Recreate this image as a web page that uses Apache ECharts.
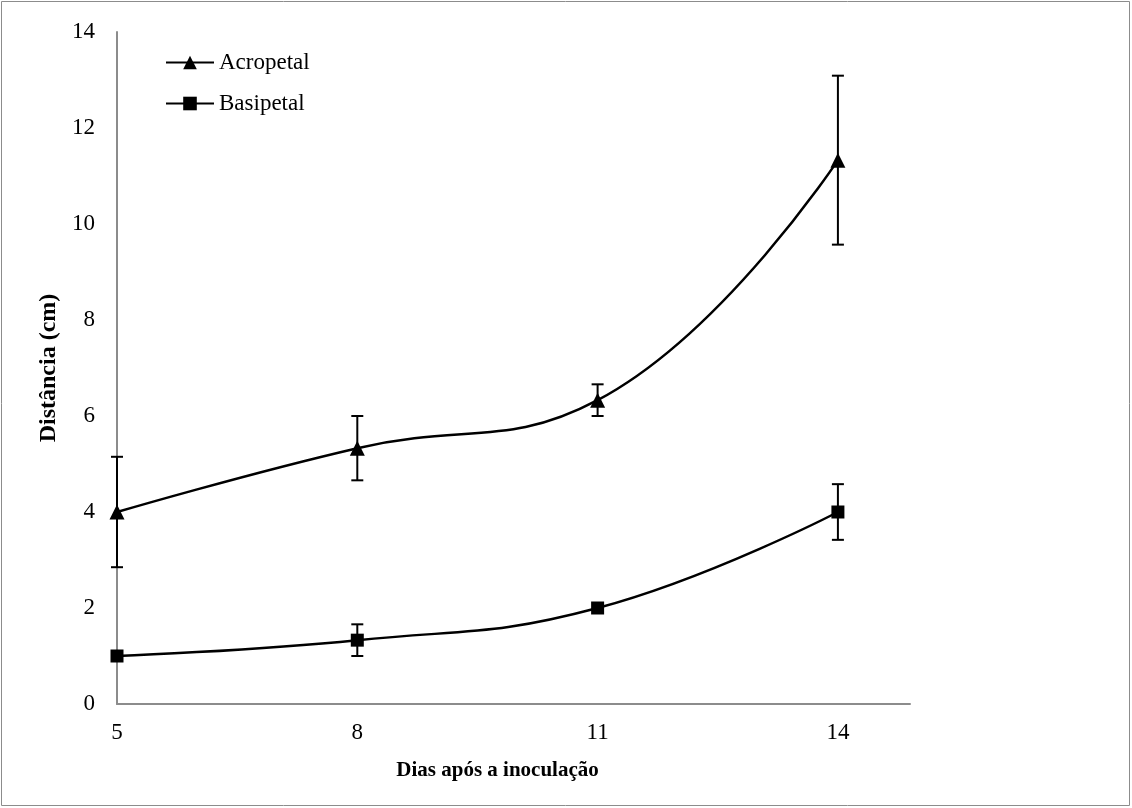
<!DOCTYPE html>
<html><head><meta charset="utf-8">
<script src="https://cdn.jsdelivr.net/npm/echarts@6/dist/echarts.min.js"></script>
<style>html,body{margin:0;padding:0;background:#fff}#c{width:1132px;height:808px}</style>
</head><body><div id="c"></div>
<script>
const days = [5, 8, 11, 14];
const xTicks = [5, 8, 11, 14];
const acropetal = [4.0, 5.33, 6.33, 11.33];
const acropetalErr = [1.15, 0.67, 0.33, 1.76];
const basipetal = [1.0, 1.33, 2.0, 4.0];
const basipetalErr = [0, 0.33, 0, 0.58];
const seriesNames = ['Acropetal', 'Basipetal'];

const FONT = '"Liberation Serif","Times New Roman",serif';
const chart = echarts.init(document.getElementById('c'));

function errSeries(vals, errs) {
  return {
    type: 'custom', silent: true, z: 1,
    data: days.map((d, i) => [d, vals[i] - errs[i], vals[i] + errs[i]]),
    renderItem: function (params, api) {
      const lo = api.coord([api.value(0), api.value(1)]);
      const hi = api.coord([api.value(0), api.value(2)]);
      if (api.value(2) - api.value(1) < 1e-6) return null;
      const w = 6;
      const st = { stroke: '#000', lineWidth: 2 };
      return { type: 'group', children: [
        { type: 'line', shape: { x1: lo[0], y1: lo[1], x2: hi[0], y2: hi[1] }, style: st },
        { type: 'line', shape: { x1: lo[0] - w, y1: lo[1], x2: lo[0] + w, y2: lo[1] }, style: st },
        { type: 'line', shape: { x1: hi[0] - w, y1: hi[1], x2: hi[0] + w, y2: hi[1] }, style: st }
      ]};
    }
  };
}

chart.setOption({
  animation: false,
  backgroundColor: '#fff',
  graphic: [{ type: 'rect', shape: { x: 1.5, y: 1.5, width: 1128, height: 804 }, style: { fill: 'none', stroke: '#8c8c8c', lineWidth: 1 }, silent: true }],
  grid: { left: 117, right: 222, top: 32, bottom: 104 },
  legend: {
    orient: 'vertical', left: 160, top: 46, itemGap: 18, itemWidth: 48, itemHeight: 17,
    textStyle: { fontFamily: FONT, fontSize: 23, color: '#000' },
    data: seriesNames
  },
  xAxis: {
    type: 'value', min: 5, max: 14.9,
    axisLine: { lineStyle: { color: '#8c8c8c', width: 2 } },
    axisTick: { show: false }, splitLine: { show: false },
    axisLabel: { customValues: xTicks, fontFamily: FONT, fontSize: 23, color: '#000', margin: 17 },
    name: 'Dias após a inoculação', nameLocation: 'middle', nameGap: 56,
    nameTextStyle: { fontFamily: FONT, fontSize: 21, fontWeight: 'bold', color: '#000', padding: [0, 32, 0, 0] }
  },
  yAxis: {
    type: 'value', min: 0, max: 14, interval: 2,
    axisLine: { show: true, lineStyle: { color: '#8c8c8c', width: 2 } },
    axisTick: { show: false }, splitLine: { show: false },
    axisLabel: { fontFamily: FONT, fontSize: 23, color: '#000', margin: 22 },
    name: 'Distância (cm)', nameLocation: 'middle', nameGap: 56, nameMoveOverlap: false,
    nameTextStyle: { fontFamily: FONT, fontSize: 24, fontWeight: 'bold', color: '#000' }
  },
  series: [
    errSeries(acropetal, acropetalErr),
    errSeries(basipetal, basipetalErr),
    {
      name: seriesNames[0], type: 'line', smooth: 0.45, z: 3,
      data: days.map((d, i) => [d, acropetal[i]]),
      symbol: 'triangle', symbolSize: 15,
      itemStyle: { color: '#000' }, lineStyle: { color: '#000', width: 2.5 }
    },
    {
      name: seriesNames[1], type: 'line', smooth: 0.45, z: 3,
      data: days.map((d, i) => [d, basipetal[i]]),
      symbol: 'rect', symbolSize: 13,
      itemStyle: { color: '#000' }, lineStyle: { color: '#000', width: 2.5 }
    }
  ]
});
</script></body></html>
